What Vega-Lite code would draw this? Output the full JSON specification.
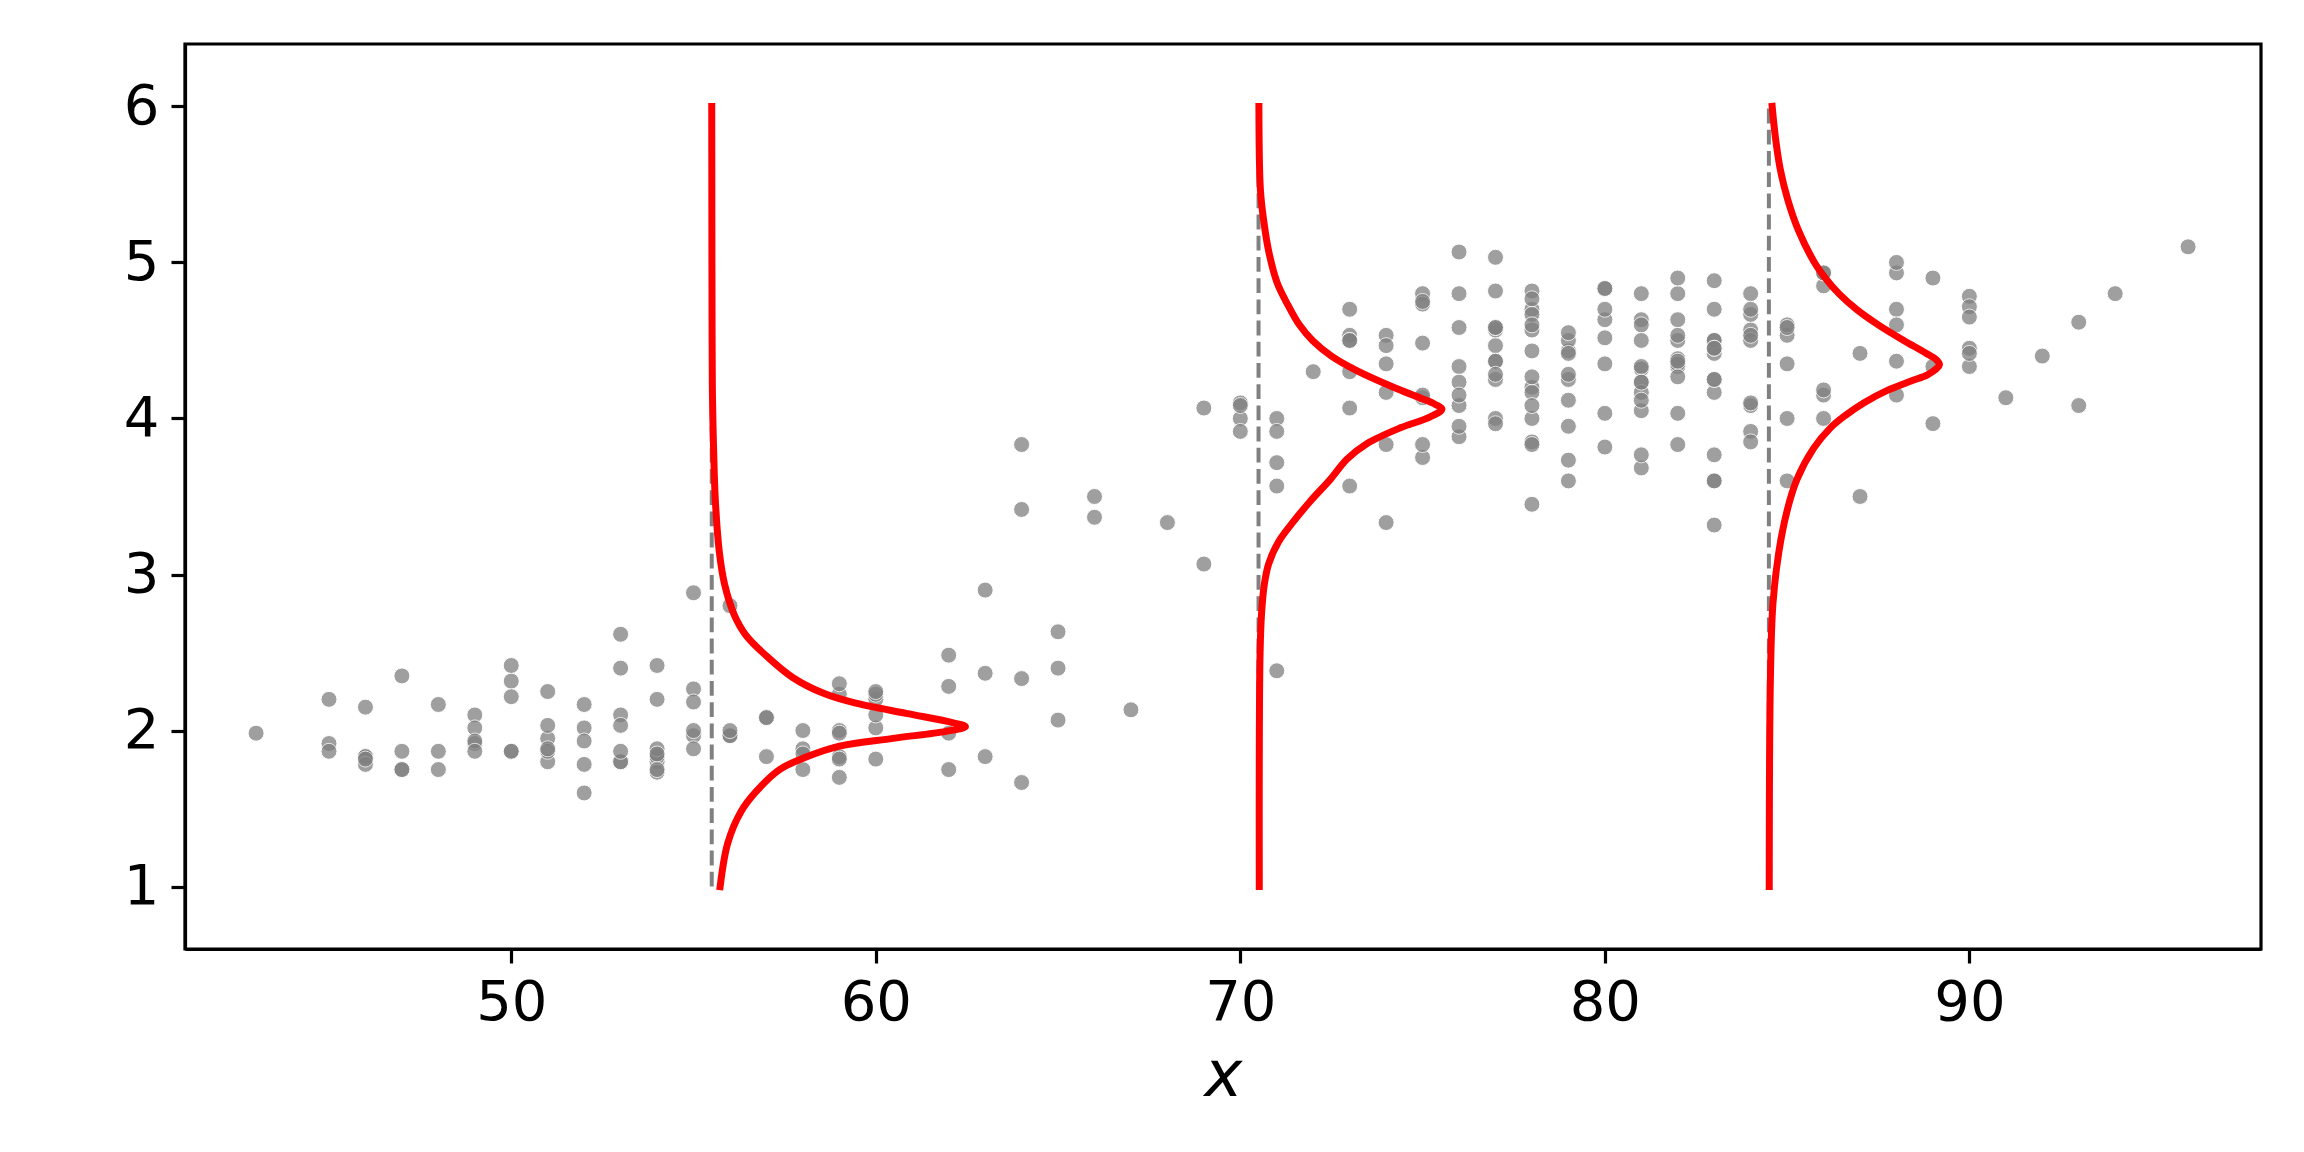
{
  "$schema": "https://vega.github.io/schema/vega-lite/v6.json",
  "autosize": {"type": "none"},
  "width": 2076,
  "height": 905,
  "padding": {"left": 185, "top": 44, "right": 43, "bottom": 203},
  "background": "white",
  "config": {
    "view": {"stroke": "black", "strokeWidth": 3.2},
    "axis": {
      "grid": false,
      "domainColor": "black",
      "domainWidth": 3.2,
      "tickColor": "black",
      "tickWidth": 3.2,
      "tickSize": 14,
      "labelFont": "DejaVu Sans",
      "labelFontSize": 56,
      "labelColor": "black",
      "labelPadding": 12,
      "titleFont": "DejaVu Sans",
      "titleColor": "black"
    }
  },
  "datasets": {
    "pts": [
      {"x":79,"y":3.6},{"x":54,"y":1.8},{"x":74,"y":3.333},{"x":62,"y":2.283},{"x":85,"y":4.533},{"x":55,"y":2.883},{"x":88,"y":4.7},{"x":85,"y":3.6},{"x":51,"y":1.95},{"x":85,"y":4.35},
      {"x":54,"y":1.833},{"x":84,"y":3.917},{"x":78,"y":4.2},{"x":47,"y":1.75},{"x":83,"y":4.7},{"x":52,"y":2.167},{"x":62,"y":1.75},{"x":84,"y":4.8},{"x":52,"y":1.6},{"x":79,"y":4.25},
      {"x":51,"y":1.8},{"x":47,"y":1.75},{"x":78,"y":3.45},{"x":69,"y":3.067},{"x":74,"y":4.533},{"x":83,"y":3.6},{"x":55,"y":1.967},{"x":76,"y":4.083},{"x":78,"y":3.85},{"x":79,"y":4.433},
      {"x":73,"y":4.3},{"x":77,"y":4.467},{"x":66,"y":3.367},{"x":80,"y":4.033},{"x":74,"y":3.833},{"x":52,"y":2.017},{"x":48,"y":1.867},{"x":80,"y":4.833},{"x":59,"y":1.833},{"x":90,"y":4.783},
      {"x":80,"y":4.35},{"x":58,"y":1.883},{"x":84,"y":4.567},{"x":58,"y":1.75},{"x":73,"y":4.533},{"x":83,"y":3.317},{"x":64,"y":3.833},{"x":53,"y":2.1},{"x":82,"y":4.633},{"x":59,"y":2.0},
      {"x":75,"y":4.8},{"x":90,"y":4.716},{"x":54,"y":1.833},{"x":80,"y":4.833},{"x":54,"y":1.733},{"x":83,"y":4.883},{"x":71,"y":3.717},{"x":64,"y":1.667},{"x":77,"y":4.567},{"x":81,"y":4.317},
      {"x":59,"y":2.233},{"x":84,"y":4.5},{"x":48,"y":1.75},{"x":82,"y":4.8},{"x":60,"y":1.817},{"x":92,"y":4.4},{"x":78,"y":4.167},{"x":78,"y":4.7},{"x":65,"y":2.067},{"x":73,"y":4.7},
      {"x":82,"y":4.033},{"x":56,"y":1.967},{"x":79,"y":4.5},{"x":71,"y":4.0},{"x":62,"y":1.983},{"x":76,"y":5.067},{"x":60,"y":2.017},{"x":78,"y":4.567},{"x":76,"y":3.883},{"x":83,"y":3.6},
      {"x":75,"y":4.133},{"x":82,"y":4.333},{"x":70,"y":4.1},{"x":65,"y":2.633},{"x":73,"y":4.067},{"x":88,"y":4.933},{"x":76,"y":3.95},{"x":80,"y":4.517},{"x":48,"y":2.167},{"x":86,"y":4.0},
      {"x":60,"y":2.2},{"x":90,"y":4.333},{"x":50,"y":1.867},{"x":78,"y":4.817},{"x":63,"y":1.833},{"x":72,"y":4.3},{"x":84,"y":4.667},{"x":75,"y":3.75},{"x":51,"y":1.867},{"x":82,"y":4.9},
      {"x":62,"y":2.483},{"x":88,"y":4.367},{"x":49,"y":2.1},{"x":83,"y":4.5},{"x":81,"y":4.05},{"x":47,"y":1.867},{"x":84,"y":4.7},{"x":52,"y":1.783},{"x":86,"y":4.85},{"x":81,"y":3.683},
      {"x":75,"y":4.733},{"x":59,"y":2.3},{"x":89,"y":4.9},{"x":79,"y":4.417},{"x":59,"y":1.7},{"x":81,"y":4.633},{"x":50,"y":2.317},{"x":85,"y":4.6},{"x":59,"y":1.817},{"x":87,"y":4.417},
      {"x":53,"y":2.617},{"x":69,"y":4.067},{"x":77,"y":4.25},{"x":56,"y":1.967},{"x":88,"y":4.6},{"x":81,"y":3.767},{"x":45,"y":1.917},{"x":82,"y":4.5},{"x":55,"y":2.267},{"x":90,"y":4.65},
      {"x":45,"y":1.867},{"x":83,"y":4.167},{"x":56,"y":2.8},{"x":89,"y":4.333},{"x":46,"y":1.833},{"x":82,"y":4.383},{"x":51,"y":1.883},{"x":86,"y":4.933},{"x":53,"y":2.033},{"x":79,"y":3.733},
      {"x":81,"y":4.233},{"x":60,"y":2.233},{"x":82,"y":4.533},{"x":77,"y":4.817},{"x":76,"y":4.333},{"x":59,"y":1.983},{"x":80,"y":4.633},{"x":49,"y":2.017},{"x":96,"y":5.1},{"x":53,"y":1.8},
      {"x":77,"y":5.033},{"x":77,"y":4.0},{"x":65,"y":2.4},{"x":81,"y":4.6},{"x":71,"y":3.567},{"x":70,"y":4.0},{"x":81,"y":4.5},{"x":93,"y":4.083},{"x":53,"y":1.8},{"x":89,"y":3.967},
      {"x":45,"y":2.2},{"x":86,"y":4.15},{"x":58,"y":2.0},{"x":78,"y":3.833},{"x":66,"y":3.5},{"x":76,"y":4.583},{"x":63,"y":2.367},{"x":88,"y":5.0},{"x":52,"y":1.933},{"x":93,"y":4.617},
      {"x":49,"y":1.917},{"x":57,"y":2.083},{"x":77,"y":4.583},{"x":68,"y":3.333},{"x":81,"y":4.167},{"x":81,"y":4.333},{"x":73,"y":4.5},{"x":50,"y":2.417},{"x":85,"y":4.0},{"x":74,"y":4.167},
      {"x":55,"y":1.883},{"x":77,"y":4.583},{"x":83,"y":4.25},{"x":83,"y":3.767},{"x":51,"y":2.033},{"x":78,"y":4.433},{"x":84,"y":4.083},{"x":46,"y":1.833},{"x":83,"y":4.417},{"x":55,"y":2.183},
      {"x":81,"y":4.8},{"x":57,"y":1.833},{"x":76,"y":4.8},{"x":84,"y":4.1},{"x":77,"y":3.966},{"x":81,"y":4.233},{"x":87,"y":3.5},{"x":77,"y":4.366},{"x":51,"y":2.25},{"x":78,"y":4.667},
      {"x":60,"y":2.1},{"x":82,"y":4.35},{"x":91,"y":4.133},{"x":53,"y":1.867},{"x":78,"y":4.6},{"x":46,"y":1.783},{"x":77,"y":4.367},{"x":84,"y":3.85},{"x":49,"y":1.933},{"x":83,"y":4.5},
      {"x":71,"y":2.383},{"x":80,"y":4.7},{"x":49,"y":1.867},{"x":75,"y":3.833},{"x":64,"y":3.417},{"x":76,"y":4.233},{"x":53,"y":2.4},{"x":94,"y":4.8},{"x":55,"y":2.0},{"x":76,"y":4.15},
      {"x":50,"y":1.867},{"x":82,"y":4.267},{"x":54,"y":1.75},{"x":75,"y":4.483},{"x":78,"y":4.0},{"x":79,"y":4.117},{"x":78,"y":4.083},{"x":78,"y":4.267},{"x":70,"y":3.917},{"x":79,"y":4.55},
      {"x":70,"y":4.083},{"x":54,"y":2.417},{"x":86,"y":4.183},{"x":50,"y":2.217},{"x":90,"y":4.45},{"x":54,"y":1.883},{"x":54,"y":1.85},{"x":77,"y":4.283},{"x":79,"y":3.95},{"x":64,"y":2.333},
      {"x":75,"y":4.15},{"x":47,"y":2.35},{"x":86,"y":4.933},{"x":63,"y":2.9},{"x":85,"y":4.583},{"x":82,"y":3.833},{"x":57,"y":2.083},{"x":82,"y":4.367},{"x":67,"y":2.133},{"x":74,"y":4.35},
      {"x":54,"y":2.2},{"x":83,"y":4.45},{"x":73,"y":3.567},{"x":73,"y":4.5},{"x":88,"y":4.15},{"x":80,"y":3.817},{"x":71,"y":3.917},{"x":83,"y":4.45},{"x":56,"y":2.0},{"x":79,"y":4.283},
      {"x":78,"y":4.767},{"x":84,"y":4.533},{"x":58,"y":1.85},{"x":83,"y":4.25},{"x":43,"y":1.983},{"x":60,"y":2.25},{"x":75,"y":4.75},{"x":81,"y":4.117},{"x":46,"y":2.15},{"x":90,"y":4.417},
      {"x":46,"y":1.817},{"x":74,"y":4.467}
    ],
    "refs": [
      {"x0":55.5,"ylo":1,"yhi":6},
      {"x0":70.5,"ylo":1,"yhi":6},
      {"x0":84.5,"ylo":1,"yhi":6}
    ],
    "curves": [
      {"c":1,"i":0,"x":55.5,"y":6.0},{"c":1,"i":1,"x":55.505,"y":5.0},{"c":1,"i":2,"x":55.51,"y":4.5},{"c":1,"i":3,"x":55.52,"y":4.14},
      {"c":1,"i":4,"x":55.55,"y":3.81},{"c":1,"i":5,"x":55.6,"y":3.47},{"c":1,"i":6,"x":55.71,"y":3.14},{"c":1,"i":7,"x":55.85,"y":2.94},
      {"c":1,"i":8,"x":56.12,"y":2.74},{"c":1,"i":9,"x":56.44,"y":2.61},{"c":1,"i":10,"x":56.99,"y":2.48},{"c":1,"i":11,"x":57.72,"y":2.34},
      {"c":1,"i":12,"x":58.55,"y":2.24},{"c":1,"i":13,"x":59.37,"y":2.18},{"c":1,"i":14,"x":60.83,"y":2.11},{"c":1,"i":15,"x":61.93,"y":2.06},
      {"c":1,"i":16,"x":62.46,"y":2.025},{"c":1,"i":17,"x":61.93,"y":1.995},{"c":1,"i":18,"x":60.47,"y":1.95},{"c":1,"i":19,"x":59.0,"y":1.9},
      {"c":1,"i":20,"x":58.09,"y":1.83},{"c":1,"i":21,"x":57.36,"y":1.75},{"c":1,"i":22,"x":56.72,"y":1.61},{"c":1,"i":23,"x":56.3,"y":1.48},
      {"c":1,"i":24,"x":55.94,"y":1.28},{"c":1,"i":25,"x":55.73,"y":1.0},
      {"c":2,"i":0,"x":70.51,"y":6.0},{"c":2,"i":1,"x":70.55,"y":5.47},{"c":2,"i":2,"x":70.64,"y":5.27},{"c":2,"i":3,"x":70.78,"y":5.07},
      {"c":2,"i":4,"x":71.01,"y":4.87},{"c":2,"i":5,"x":71.3,"y":4.73},{"c":2,"i":6,"x":71.62,"y":4.6},{"c":2,"i":7,"x":71.98,"y":4.5},
      {"c":2,"i":8,"x":72.5,"y":4.4},{"c":2,"i":9,"x":73.25,"y":4.3},{"c":2,"i":10,"x":74.2,"y":4.2},{"c":2,"i":11,"x":74.95,"y":4.13},
      {"c":2,"i":12,"x":75.35,"y":4.09},{"c":2,"i":13,"x":75.53,"y":4.06},
      {"c":2,"i":14,"x":75.21,"y":4.01},{"c":2,"i":15,"x":74.39,"y":3.94},{"c":2,"i":16,"x":73.48,"y":3.84},{"c":2,"i":17,"x":72.93,"y":3.74},
      {"c":2,"i":18,"x":72.47,"y":3.61},{"c":2,"i":19,"x":71.92,"y":3.47},{"c":2,"i":20,"x":71.46,"y":3.34},{"c":2,"i":21,"x":71.05,"y":3.21},
      {"c":2,"i":22,"x":70.78,"y":3.07},{"c":2,"i":23,"x":70.66,"y":2.94},{"c":2,"i":24,"x":70.58,"y":2.74},{"c":2,"i":25,"x":70.54,"y":2.47},
      {"c":2,"i":26,"x":70.52,"y":1.81},{"c":2,"i":27,"x":70.52,"y":1.0},
      {"c":3,"i":0,"x":84.59,"y":6.0},{"c":3,"i":1,"x":84.68,"y":5.8},{"c":3,"i":2,"x":84.81,"y":5.6},{"c":3,"i":3,"x":85.02,"y":5.4},
      {"c":3,"i":4,"x":85.32,"y":5.2},{"c":3,"i":5,"x":85.75,"y":5.0},{"c":3,"i":6,"x":86.05,"y":4.9},{"c":3,"i":7,"x":86.42,"y":4.8},
      {"c":3,"i":8,"x":86.9,"y":4.7},{"c":3,"i":9,"x":87.5,"y":4.6},{"c":3,"i":10,"x":88.2,"y":4.5},{"c":3,"i":11,"x":88.8,"y":4.42},
      {"c":3,"i":12,"x":89.1,"y":4.375},{"c":3,"i":13,"x":89.18,"y":4.345},{"c":3,"i":14,"x":89.1,"y":4.32},{"c":3,"i":15,"x":88.85,"y":4.28},
      {"c":3,"i":16,"x":88.4,"y":4.24},{"c":3,"i":17,"x":87.75,"y":4.18},{"c":3,"i":18,"x":87.1,"y":4.1},{"c":3,"i":19,"x":86.6,"y":4.02},
      {"c":3,"i":20,"x":86.19,"y":3.94},{"c":3,"i":21,"x":85.73,"y":3.81},{"c":3,"i":22,"x":85.27,"y":3.61},{"c":3,"i":23,"x":85.0,"y":3.41},
      {"c":3,"i":24,"x":84.77,"y":3.14},{"c":3,"i":25,"x":84.61,"y":2.81},{"c":3,"i":26,"x":84.54,"y":2.31},{"c":3,"i":27,"x":84.51,"y":1.0}
    ]
  },
  "layer": [
    {
      "data": {"name": "pts"},
      "mark": {"type": "point", "filled": true, "shape": "circle", "size": 256, "color": "#808080", "opacity": 0.75, "stroke": "white", "strokeWidth": 1},
      "encoding": {
        "x": {"field": "x", "type": "quantitative", "scale": {"domain": [41.05, 98.0], "nice": false, "zero": false},
              "axis": {"values": [50, 60, 70, 80, 90], "format": "d", "title": "x", "titleFontStyle": "italic", "titleFontWeight": "normal", "titleFontSize": 64, "titlePadding": 14}},
        "y": {"field": "y", "type": "quantitative", "scale": {"domain": [0.6, 6.4], "nice": false, "zero": false},
              "axis": {"values": [1, 2, 3, 4, 5, 6], "format": "d", "title": null}}
      }
    },
    {
      "data": {"name": "refs"},
      "mark": {"type": "rule", "color": "#808080", "strokeWidth": 4, "strokeDash": [14.8, 6.4]},
      "encoding": {
        "x": {"field": "x0", "type": "quantitative"},
        "y": {"field": "ylo", "type": "quantitative"},
        "y2": {"field": "yhi"}
      }
    },
    {
      "data": {"name": "curves"},
      "mark": {"type": "line", "color": "red", "strokeWidth": 7, "interpolate": "catmull-rom", "strokeCap": "square", "strokeJoin": "round"},
      "encoding": {
        "x": {"field": "x", "type": "quantitative"},
        "y": {"field": "y", "type": "quantitative"},
        "detail": {"field": "c"},
        "order": {"field": "i"}
      }
    }
  ]
}
